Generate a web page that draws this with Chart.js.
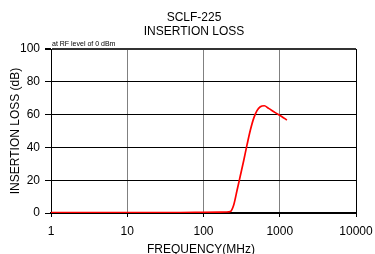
<!DOCTYPE html>
<html><head><meta charset="utf-8">
<script src="https://cdn.jsdelivr.net/npm/chart.js@4"></script>
<style>html,body{margin:0;padding:0;background:#fff}#wrap{width:375px;height:254px}</style>
</head><body><div id="wrap"><canvas id="c" width="375" height="254"></canvas></div>
<script>
const titleLines = ["SCLF-225", "INSERTION LOSS"];
const noteText = "at RF level of 0 dBm";
const xTitle = "FREQUENCY(MHz)";
const yTitle = "INSERTION LOSS (dB)";
const xTicks = [1, 10, 100, 1000, 10000];
const yTicks = [0, 20, 40, 60, 80, 100];
const freqMHz = [1, 10, 50, 100, 200, 225, 249, 276, 305, 337, 372, 412, 455, 503, 556, 627, 714, 873, 1071, 1242];
const lossDb = [0.3, 0.3, 0.3, 0.4, 0.6, 0.9, 4.9, 14, 23, 32, 41.5, 50.6, 57.7, 62.4, 64.8, 65.4, 63.8, 61.2, 58.7, 56.7];

const textPlugin = {
  id: 'texts',
  afterDraw(chart) {
    const ctx = chart.ctx, a = chart.chartArea;
    ctx.save();
    ctx.fillStyle = '#000';
    ctx.textAlign = 'center';
    ctx.textBaseline = 'alphabetic';
    ctx.font = '12px "Liberation Sans", Arial, sans-serif';
    ctx.fillText(titleLines[0], 194, 21);
    ctx.fillText(titleLines[1], 194, 35);
    ctx.fillText(xTitle, 201, 253);
    ctx.save();
    ctx.translate(19, (a.top + a.bottom) / 2);
    ctx.rotate(-Math.PI / 2);
    ctx.fillText(yTitle, 0, 0);
    ctx.restore();
    ctx.textAlign = 'left';
    ctx.font = '7px "Liberation Sans", Arial, sans-serif';
    ctx.fillText(noteText, 52, 46);
    ctx.restore();
  }
};

new Chart(document.getElementById('c'), {
  type: 'line',
  data: {
    datasets: [{
      data: freqMHz.map((f, i) => ({x: f, y: lossDb[i]})),
      borderColor: '#ff0000',
      borderWidth: 1.7,
      pointRadius: 0,
      cubicInterpolationMode: 'monotone',
      fill: false
    }]
  },
  options: {
    responsive: false,
    animation: false,
    devicePixelRatio: 1,
    layout: {padding: {top: 49, right: 19, left: 0, bottom: 0}},
    plugins: {legend: {display: false}, tooltip: {enabled: false}, title: {display: false}},
    scales: {
      x: {
        type: 'logarithmic',
        min: 1, max: 10000,
        afterBuildTicks: s => { s.ticks = xTicks.map(v => ({value: v})); },
        afterFit: s => { s.height = 41; s.paddingLeft = 0; s.paddingRight = 0; },
        ticks: {
          color: '#000', font: {family: '"Liberation Sans", Arial, sans-serif', size: 12},
          padding: 7, maxRotation: 0, autoSkip: false,
          callback: v => String(v)
        },
        grid: {
          color: c => (c.tick && c.tick.value === 10000) ? '#000' : '#808080',
          tickColor: '#000',
          tickLength: 4,
          lineWidth: 1
        },
        border: {color: '#000', width: 2}
      },
      y: {
        min: 0, max: 100,
        afterBuildTicks: s => { s.ticks = yTicks.map(v => ({value: v})); },
        afterFit: s => { s.width = 51; s.paddingTop = 0; s.paddingBottom = 0; },
        ticks: {
          color: '#000', font: {family: '"Liberation Sans", Arial, sans-serif', size: 12},
          padding: 5
        },
        grid: {
          color: c => (c.tick && c.tick.value === 100) ? '#333' : '#000',
          lineWidth: c => (c.tick && c.tick.value === 100) ? 2 : 1,
          tickColor: '#000',
          tickLength: 6
        },
        border: {color: '#000', width: 1}
      }
    }
  },
  plugins: [textPlugin]
});
</script>
</body></html>
